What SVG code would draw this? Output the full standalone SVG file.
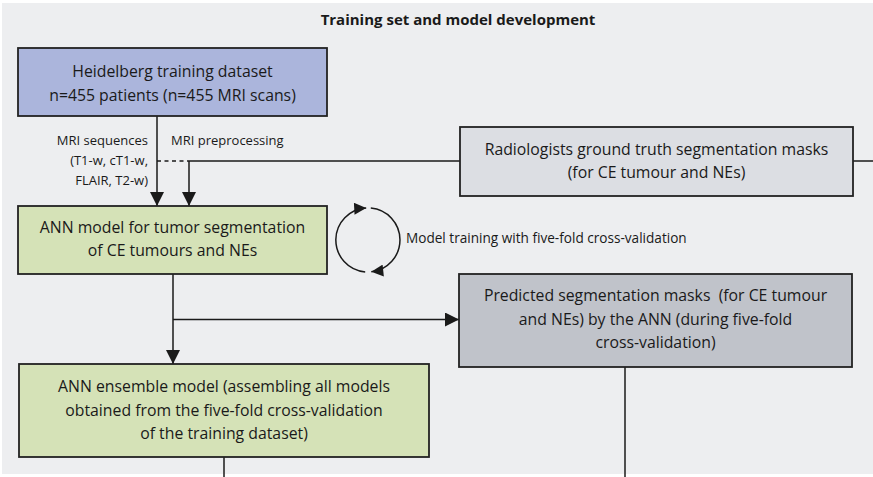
<svg xmlns="http://www.w3.org/2000/svg" width="873" height="477" viewBox="0 0 873 477">
<style>
.box{stroke:#222;stroke-width:1.8}
.t{font-family:"Open Sans","Noto Sans","DejaVu Sans",sans-serif;font-size:15.8px;fill:#1a1a1a;text-anchor:middle;white-space:pre}
.lab{font-family:"Open Sans","Noto Sans","DejaVu Sans",sans-serif;font-size:13px;fill:#1a1a1a}
.ttl{font-family:"Open Sans","Noto Sans","DejaVu Sans",sans-serif;font-size:15px;font-weight:bold;fill:#1a1a1a;text-anchor:middle}
.ln{stroke:#1a1a1a;stroke-width:1.5;fill:none}
</style>
<defs>
<marker id="ah" markerUnits="userSpaceOnUse" markerWidth="14" markerHeight="14" refX="13" refY="6.5" orient="auto" viewBox="0 0 13 13">
<path d="M0,0 L13,6.5 L0,13 z" fill="#1a1a1a"/>
</marker>
<marker id="ahs" markerUnits="userSpaceOnUse" markerWidth="13" markerHeight="12" refX="12" refY="6" orient="auto" viewBox="0 0 12 12">
<path d="M0,0 L12,6 L0,12 z" fill="#1a1a1a"/>
</marker>
</defs>
<rect x="0" y="0" width="873" height="477" fill="#ffffff"/>
<rect x="2" y="3" width="871" height="471" fill="#edeef0"/>
<text class="ttl" x="458" y="25">Training set and model development</text>

<g id="connectors">
<line class="ln" x1="157" y1="116" x2="157" y2="206" marker-end="url(#ah)"/>
<line class="ln" x1="157" y1="161" x2="189" y2="161" stroke-dasharray="4,3.5"/>
<line class="ln" x1="189" y1="161" x2="460" y2="161"/>
<line class="ln" x1="189" y1="161" x2="189" y2="206" marker-end="url(#ah)"/>
<line class="ln" x1="853" y1="161" x2="873" y2="161"/>
<line class="ln" x1="173" y1="274" x2="173" y2="364" marker-end="url(#ah)"/>
<line class="ln" x1="173" y1="319.5" x2="459" y2="319.5" marker-end="url(#ah)"/>
<line class="ln" x1="224" y1="457" x2="224" y2="477"/>
<line class="ln" x1="625" y1="367" x2="625" y2="477"/>
<path class="ln" d="M365.2,271.9 A32,32 0 0 1 366.2,208.05" marker-end="url(#ahs)"/>
<path class="ln" d="M370.8,208.1 A32,32 0 0 1 371.3,271.8" marker-end="url(#ahs)"/>
<text class="lab" x="148" y="145" text-anchor="end">MRI sequences</text>
<text class="lab" x="148" y="165" text-anchor="end">(T1-w, cT1-w,</text>
<text class="lab" x="148" y="185" text-anchor="end">FLAIR, T2-w)</text>
<text class="lab" x="171" y="145">MRI preprocessing</text>
<text class="lab" x="406" y="243" style="font-size:13.6px">Model training with five-fold cross-validation</text>
</g>

<g id="heidelberg">
<rect class="box" x="18" y="48" width="309" height="68" fill="#abb5dc"/>
<text class="t" x="172.5" y="77">Heidelberg training dataset</text>
<text class="t" x="172.5" y="101">n=455 patients (n=455 MRI scans)</text>
</g>

<g id="ann-model">
<rect class="box" x="18" y="206" width="309" height="68" fill="#d5e2b7"/>
<text class="t" x="172.5" y="233">ANN model for tumor segmentation</text>
<text class="t" x="172.5" y="256">of CE tumours and NEs</text>
</g>

<g id="radiologists">
<rect class="box" x="460" y="127" width="393" height="69" fill="#dcdee3"/>
<text class="t" x="656.5" y="155">Radiologists ground truth segmentation masks</text>
<text class="t" x="656.5" y="178">(for CE tumour and NEs)</text>
</g>

<g id="predicted">
<rect class="box" x="459" y="274" width="393" height="93" fill="#c0c3ca"/>
<text class="t" x="655.5" y="301">Predicted segmentation masks  (for CE tumour</text>
<text class="t" x="655.5" y="324.5">and NEs) by the ANN (during five-fold</text>
<text class="t" x="655.5" y="348">cross-validation)</text>
</g>

<g id="ensemble">
<rect class="box" x="19" y="364" width="410" height="93" fill="#d5e2b7"/>
<text class="t" x="224" y="392">ANN ensemble model (assembling all models</text>
<text class="t" x="224" y="415.5">obtained from the five-fold cross-validation</text>
<text class="t" x="224" y="439">of the training dataset)</text>
</g>
</svg>
